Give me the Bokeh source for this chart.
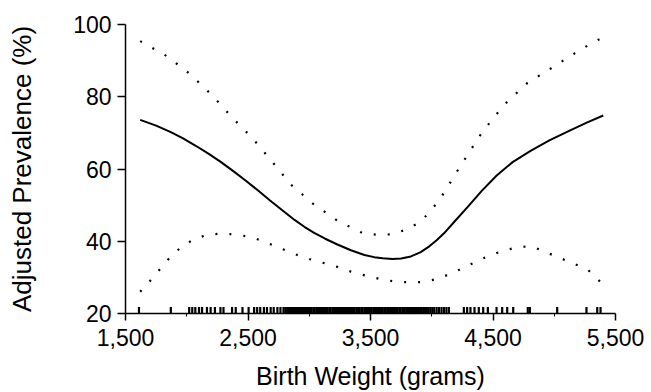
from bokeh.plotting import figure
from bokeh.models import Range1d, FixedTicker, NumeralTickFormatter
from bokeh.embed import file_html
from bokeh.resources import INLINE

# Adjusted prevalence estimate (solid line)
solid_x = [1620, 1750, 1870, 1970, 2070, 2180, 2280, 2380, 2480, 2580, 2680, 2780,
           2880, 2960, 3040, 3130, 3230, 3340, 3450, 3530, 3600, 3680, 3750, 3830,
           3910, 3980, 4040, 4100, 4190, 4290, 4410, 4530, 4660, 4810, 4960, 5130,
           5270, 5400]
solid_y = [73.6, 72.0, 70.2, 68.5, 66.5, 64.2, 61.9, 59.4, 56.8, 54.1, 51.3, 48.6,
           45.9, 44.0, 42.3, 40.7, 39.1, 37.5, 36.2, 35.6, 35.3, 35.1, 35.2, 35.8,
           37.0, 38.6, 40.3, 42.2, 45.6, 49.4, 54.0, 58.2, 61.9, 65.1, 67.9, 70.7,
           72.9, 74.8]

# Upper confidence limit (dotted)
upper_x = [1620, 1840, 2030, 2210, 2370, 2540, 2700, 2850, 3030, 3230, 3445, 3560,
           3680, 3795, 3905, 3980, 4060, 4120, 4180, 4245, 4310, 4375, 4445, 4520,
           4595, 4780, 4980, 5180, 5290, 5400]
upper_y = [95.4, 91.2, 86.2, 80.3, 74.3, 68.4, 61.9, 55.7, 50.4, 45.7, 42.1, 41.8,
           41.9, 43.3, 45.3, 48.0, 51.3, 54.5, 57.9, 61.4, 64.8, 68.4, 71.6, 74.8,
           77.9, 83.8, 88.0, 92.3, 94.5, 96.5]

# Lower confidence limit (dotted)
lower_x = [1620, 1710, 1785, 1865, 1955, 2060, 2180, 2300, 2420, 2540, 2660, 2775,
           2885, 3000, 3115, 3230, 3340, 3460, 3570, 3690, 3815, 3930, 4045, 4155,
           4255, 4365, 4475, 4590, 4700, 4820, 4935, 5045, 5160, 5275, 5360, 5400]
lower_y = [26.0, 29.4, 32.4, 35.6, 38.4, 40.6, 41.9, 42.1, 41.8, 41.0, 39.5, 37.9,
           36.4, 35.1, 34.0, 32.9, 31.6, 30.5, 29.6, 28.9, 28.6, 28.7, 29.6, 31.0,
           32.6, 34.4, 36.1, 37.4, 38.4, 38.6, 36.9, 35.4, 33.8, 32.1, 29.3, 27.9]

# Observed birth weights (rug)
rug_weights = [1610, 1870, 2020, 2045, 2070, 2100, 2125, 2165, 2195, 2230, 2275, 2300,
               2370, 2400, 2455, 2505, 2550, 2575, 2600, 2630, 2655, 2685, 2710, 2740,
               2765, 2790, 2805, 2820, 2835, 2850, 2860, 2875, 2890, 2900, 2915, 2925,
               2940, 2950, 2965, 2975, 2990, 3000, 3010, 3020, 3035, 3045, 3060, 3070,
               3080, 3095, 3105, 3120, 3130, 3140, 3150, 3165, 3175, 3190, 3200, 3210,
               3220, 3235, 3245, 3260, 3270, 3280, 3290, 3300, 3315, 3325, 3340, 3350,
               3360, 3370, 3385, 3395, 3400, 3410, 3425, 3435, 3450, 3460, 3470, 3480,
               3495, 3500, 3510, 3525, 3535, 3545, 3560, 3570, 3580, 3590, 3600, 3615,
               3625, 3640, 3650, 3660, 3675, 3685, 3700, 3710, 3720, 3735, 3745, 3760,
               3770, 3780, 3795, 3805, 3815, 3830, 3840, 3855, 3865, 3880, 3890, 3905,
               3915, 3930, 3945, 3960, 3975, 3990, 4005, 4020, 4040, 4060, 4080, 4100,
               4120, 4140, 4262, 4289, 4316, 4349, 4384, 4420, 4458, 4529, 4575, 4616,
               4665, 4784, 4801, 5024, 5263, 5351, 5378]
rug_base = [20.0] * len(rug_weights)
rug_top = [21.8] * len(rug_weights)

x_ticks = [1500, 2500, 3500, 4500, 5500]
x_minor = [2000, 3000, 4000, 5000]
y_ticks = [20, 40, 60, 80, 100]
x_title = "Birth Weight (grams)"
y_title = "Adjusted Prevalence (%)"

FONT = "Liberation Sans"

p = figure(width=651, height=392, x_range=Range1d(1500, 5500), y_range=Range1d(20, 100),
           output_backend="svg", toolbar_location=None,
           min_border_left=125, min_border_right=36, min_border_top=24, min_border_bottom=79)
p.xgrid.visible = False
p.ygrid.visible = False
p.outline_line_color = None
p.background_fill_color = "white"
p.border_fill_color = "white"

p.xaxis.ticker = FixedTicker(ticks=x_ticks, minor_ticks=x_minor)
p.yaxis.ticker = FixedTicker(ticks=y_ticks, minor_ticks=[])
p.xaxis.formatter = NumeralTickFormatter(format="0,0")

for ax in (p.xaxis, p.yaxis):
    ax.axis_line_color = "black"
    ax.axis_line_width = 1.5
    ax.major_tick_line_color = "black"
    ax.major_tick_line_width = 1.5
    ax.minor_tick_line_color = "black"
    ax.major_tick_in = 0
    ax.minor_tick_in = 0
    ax.major_label_text_font = FONT
    ax.major_label_text_font_size = "23px"
    ax.major_label_text_color = "black"
    ax.axis_label_text_font = FONT
    ax.axis_label_text_font_style = "normal"
    ax.axis_label_text_color = "black"

p.xaxis.axis_label_text_font_size = "25px"
p.yaxis.axis_label_text_font_size = "26px"
p.xaxis.major_tick_out = 7
p.xaxis.minor_tick_out = 3
p.yaxis.major_tick_out = 8
p.xaxis.major_label_standoff = 8
p.yaxis.major_label_standoff = 6
p.xaxis.axis_label = x_title
p.yaxis.axis_label = y_title
p.xaxis.axis_label_standoff = 13
p.yaxis.axis_label_standoff = 33

p.segment(x0=rug_weights, y0=rug_base, x1=rug_weights, y1=rug_top, line_color="black", line_width=2.2)
p.line(solid_x, solid_y, line_color="black", line_width=2)
p.line(upper_x, upper_y, line_color="black", line_width=2.2, line_dash="2 12")
p.line(lower_x, lower_y, line_color="black", line_width=2.2, line_dash="2 12")

open("out.html", "w").write(file_html(p, INLINE))
